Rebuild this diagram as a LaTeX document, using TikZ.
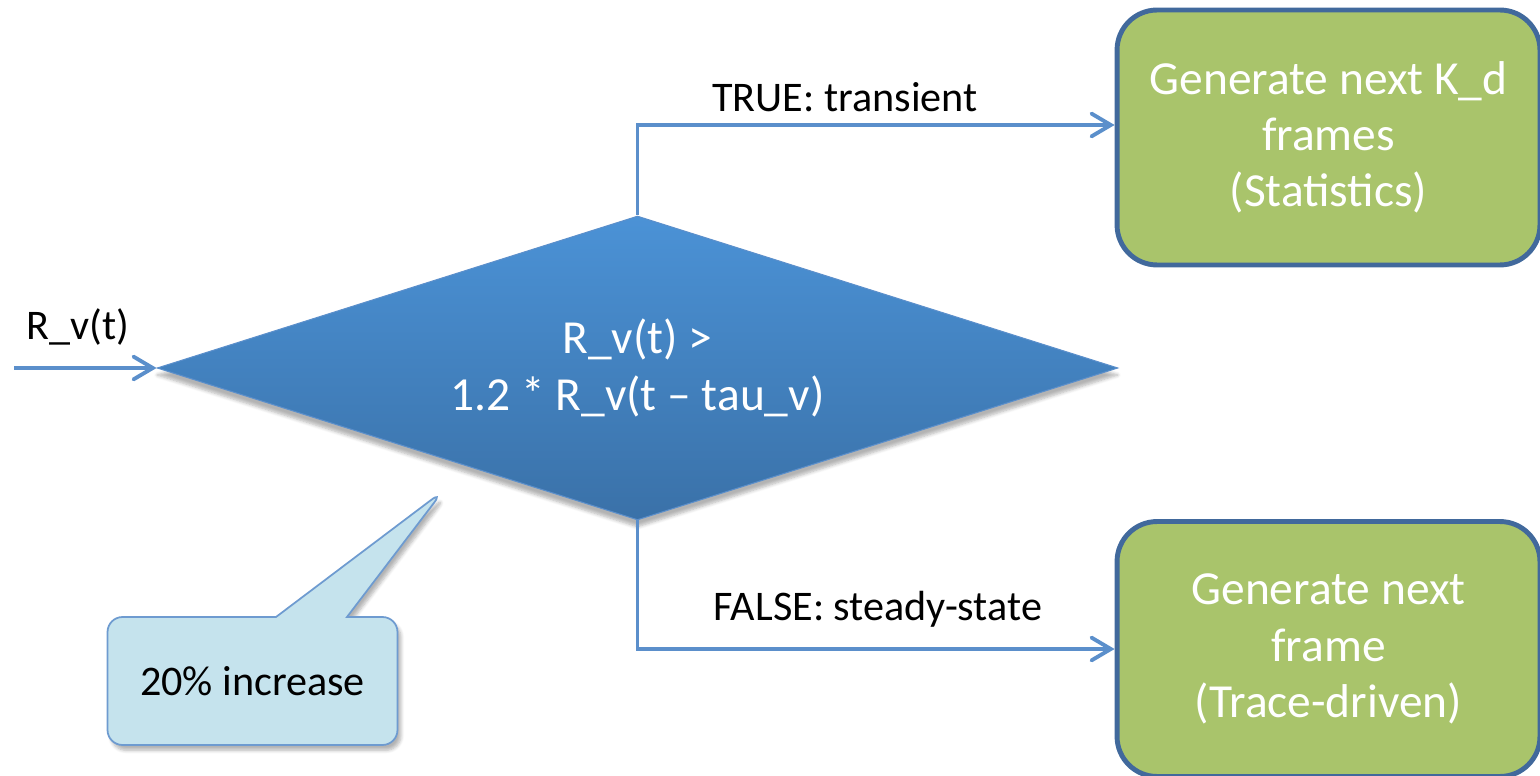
\documentclass[tikz,border=0pt]{standalone}
\usepackage{fontspec}
\setmainfont{Carlito}
\usepackage{xcolor}
\usepackage{tikz}
\usetikzlibrary{shapes.geometric, shapes.callouts, positioning, arrows.meta, shadows.blur}
\definecolor{lineblue}{HTML}{5B8FCB}
\definecolor{boxborder}{HTML}{41699C}
\definecolor{boxgreen}{HTML}{A9C46B}
\definecolor{notefill}{HTML}{C5E3ED}
\definecolor{noteborder}{HTML}{6E9BD0}
\definecolor{diatop}{HTML}{4B92D6}
\definecolor{diabottom}{HTML}{3A71A8}
\tikzstyle{decision} = [diamond, aspect=3.16, minimum width=19.22cm, minimum height=6.08cm, inner sep=0pt, top color=diatop, bottom color=diabottom, draw=lineblue, line width=0.6pt, text=white, align=center, font=\fontsize{27}{32}\selectfont, blur shadow={shadow xshift=0pt, shadow yshift=-4pt, shadow opacity=30, shadow blur steps=6}]
\tikzstyle{process} = [rectangle, rounded corners=0.8cm, minimum width=8.46cm, minimum height=5.1cm, fill=boxgreen, draw=boxborder, line width=2.8pt, text=white, align=center, font=\fontsize{27}{32}\selectfont]
\tikzstyle{note} = [rectangle callout, rounded corners=0.3cm, minimum width=5.8cm, minimum height=2.56cm, callout pointer width=1.42cm, fill=notefill, draw=noteborder, line width=1pt, font=\fontsize{24}{29}\selectfont, blur shadow={shadow xshift=2pt, shadow yshift=-3pt, shadow opacity=30, shadow blur steps=6}]
\tikzstyle{branch} = [font=\fontsize{24}{29}\selectfont]
\tikzstyle{line} = [draw=lineblue, line width=2.2pt, -{Straight Barb[length=11pt, width=13pt, line cap=round]}]

\begin{document}
\begin{tikzpicture}[x=0.02cm, y=-0.02cm]
		\useasboundingbox (0,0) rectangle (1540,776);
		\clip (0,0) rectangle (1540,776);
		\node (cond)[decision] at (637.5,368) {R\_v(t) >\\1.2 * R\_v(t – tau\_v)};
		\node (stats)[process] at (1328.5,137.5) {Generate next K\_d\\frames\\(Statistics)};
		\node (trace)[process] at (1328.5,649) {Generate next\\frame\\(Trace-driven)};
		\node (hint)[note, callout absolute pointer={(443,491)}] at (252.5,681) {20\% increase};
		\node (rin)[branch] at (78,327) {R\_v(t)};
		\node (yes)[branch] at (845,97) {TRUE: transient};
		\node (no)[branch] at (878,609) {FALSE: steady-state};
		\coordinate (start) at (14,368);
		\draw [line] (start) -- (cond.west);
		\draw [line] (cond.north) |- ([yshift=0.25cm]stats.west);
		\draw [line] (cond.south) |- (trace.west);
	\end{tikzpicture}
\end{document}
